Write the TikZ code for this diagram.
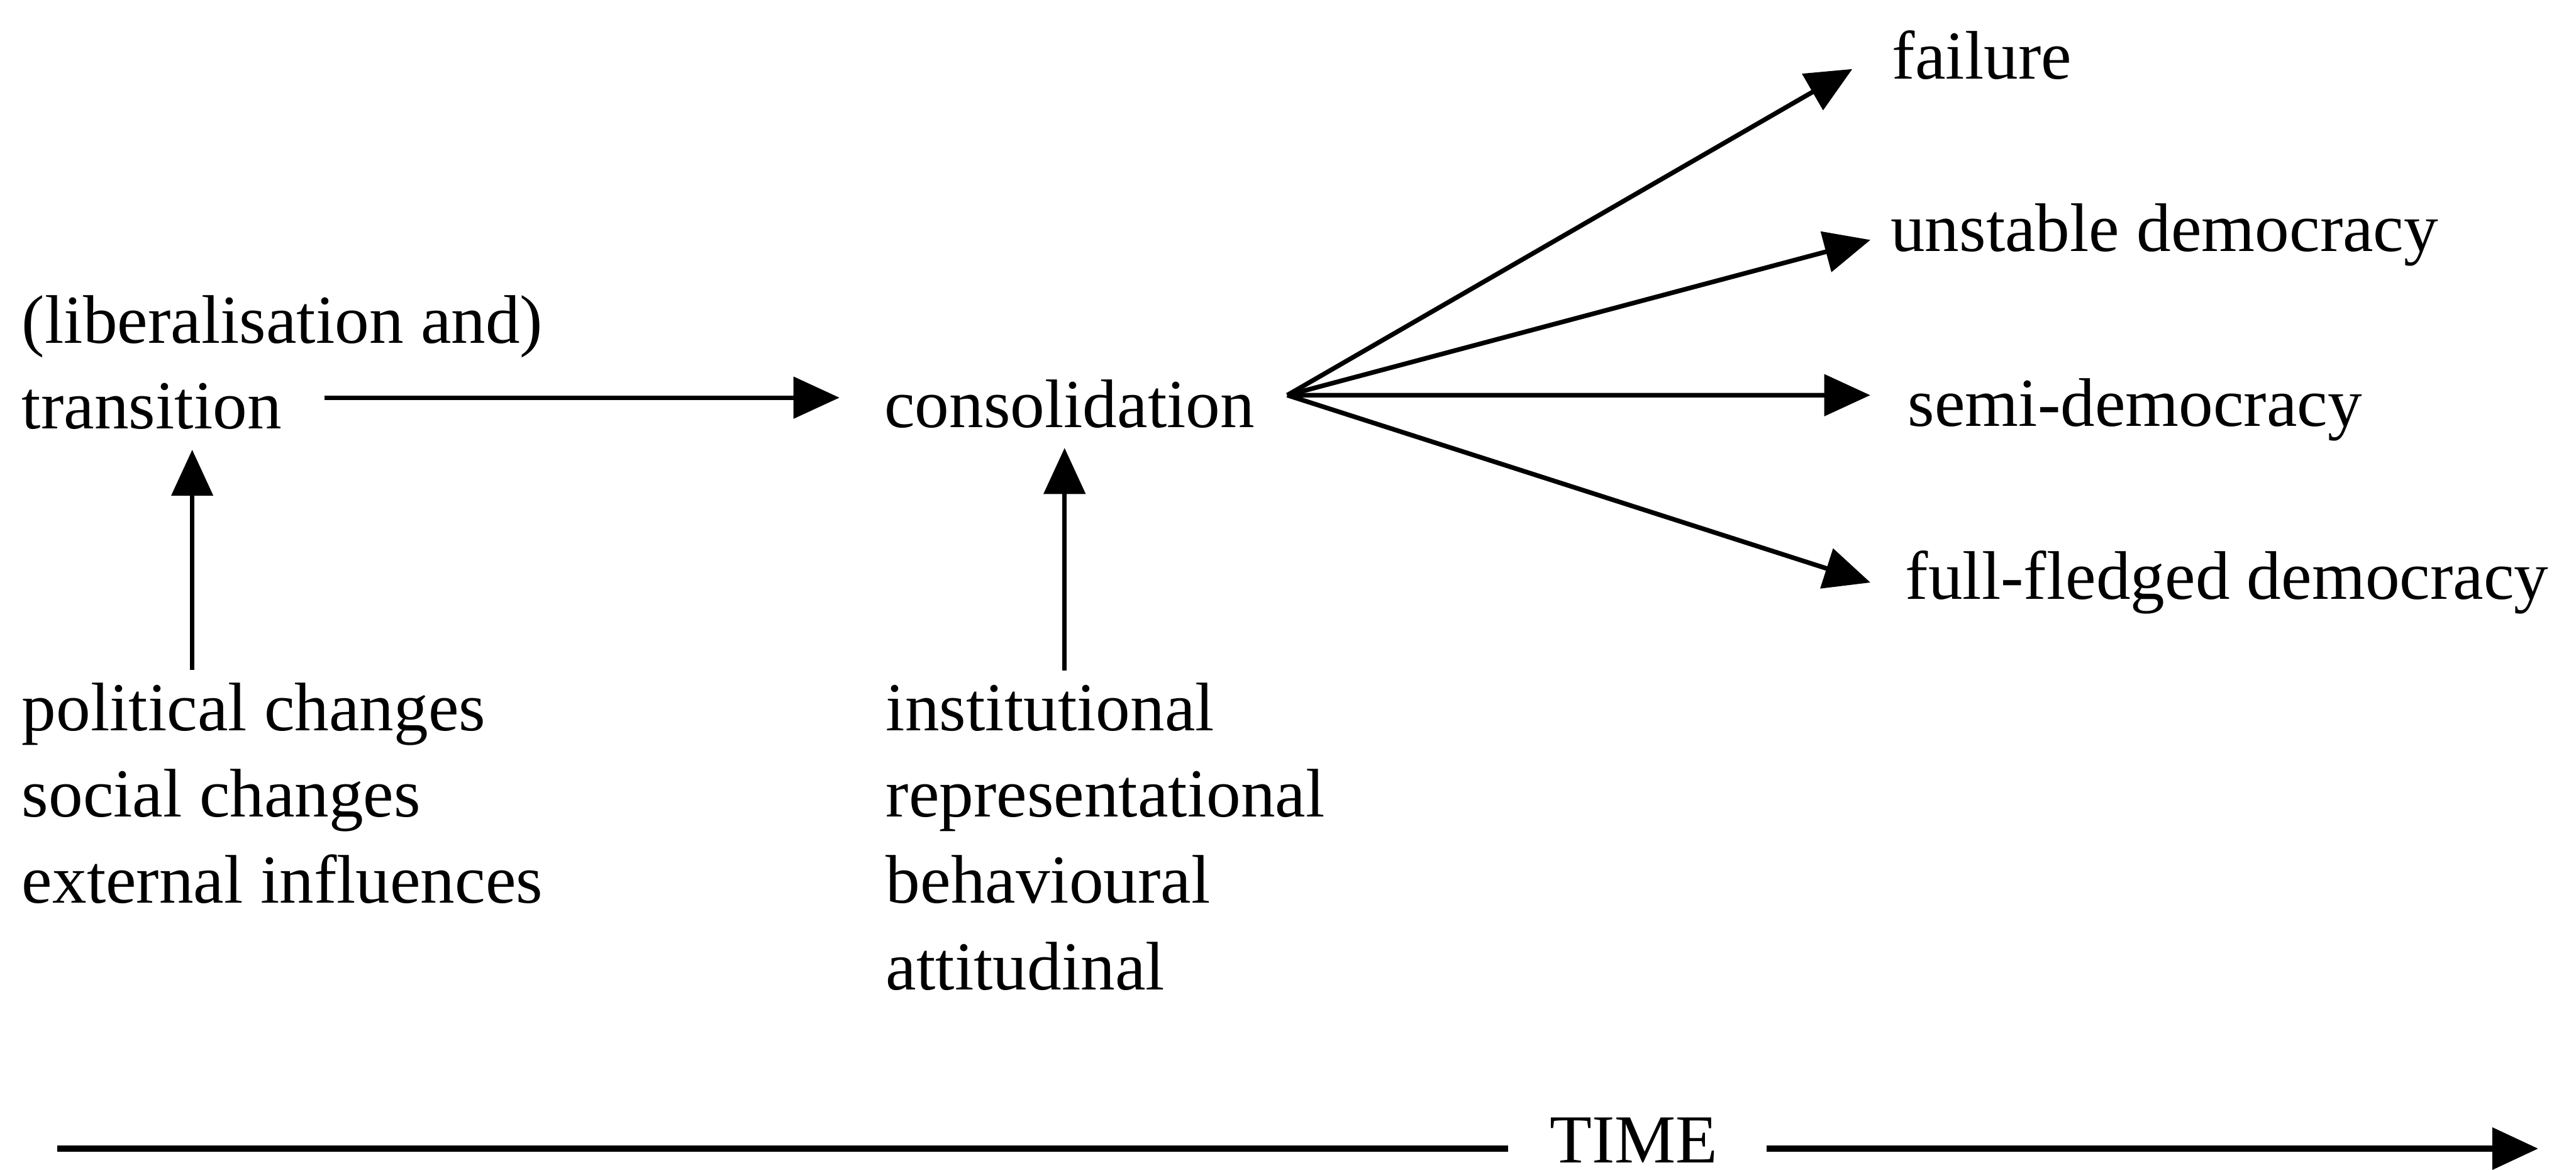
\documentclass[tikz,border=0pt]{standalone}
\usepackage{fontspec}
\setmainfont{Liberation Serif}
\usetikzlibrary{arrows.meta}
\begin{document}
\begin{tikzpicture}[x=0.2mm,y=-0.2mm,
  lbl/.style={anchor=base west, inner sep=0pt, font=\fontsize{23.8}{29}\selectfont},
  arr/.style={-{Triangle[length=5.6mm,width=5mm]}, line width=1.6pt},
  timeline/.style={line width=2.1pt}]
\useasboundingbox (0,0) rectangle (1568,712);

% stages
\node[lbl] (lib)   at (13,209)   {(liberalisation and)};
\node[lbl] (trans) at (13,261)   {transition};
\node[lbl] (cons)  at (538,260)  {consolidation};

% factors driving transition
\node[lbl] (pol1) at (13,444.5) {political changes};
\node[lbl] (pol2) at (13,497)   {social changes};
\node[lbl] (pol3) at (13,549.5) {external influences};

% dimensions of consolidation
\node[lbl] (inst1) at (539,444.5) {institutional};
\node[lbl] (inst2) at (539,497)   {representational};
\node[lbl] (inst3) at (539,549.5) {behavioural};
\node[lbl] (inst4) at (539,602.5) {attitudinal};

% outcomes
\node[lbl] (fail) at (1151.5,48)   {failure};
\node[lbl] (unst) at (1150.5,153)  {unstable democracy};
\node[lbl] (semi) at (1161,259.5)  {semi-democracy};
\node[lbl] (full) at (1159.5,364.5) {full-fledged democracy};

% time axis label
\node[lbl] (time) at (943,707.5) {TIME};

% transition -> consolidation
\draw[arr] ([shift={(26,-19)}]trans.base east) -- ([shift={(-27,-18)}]cons.base west);

% upward influences
\draw[arr] ([shift={(104,-37)}]pol1.base west) -- ([shift={(104,12.7)}]trans.base west);
\draw[arr] ([shift={(109,-36.5)}]inst1.base west) -- ([shift={(110,12.6)}]cons.base west);

% fan of outcomes
\coordinate (fan) at ([shift={(19.5,-19.5)}]cons.base east);
\draw[arr] (fan) -- ([shift={(-24,-6)}]fail.base west);
\draw[arr] (fan) -- ([shift={(-12,-7)}]unst.base west);
\draw[arr] (fan) -- ([shift={(-22.6,-19)}]semi.base west);
\draw[arr] (fan) -- ([shift={(-21,-10)}]full.base west);

% time axis
\coordinate (t0) at (35,699);
\coordinate (t1) at (1545,699);
\draw[timeline] (t0) -- ([shift={(-25,-8.5)}]time.base west);
\draw[arr,timeline] ([shift={(29.5,-8.5)}]time.base east) -- (t1);
\end{tikzpicture}
\end{document}
